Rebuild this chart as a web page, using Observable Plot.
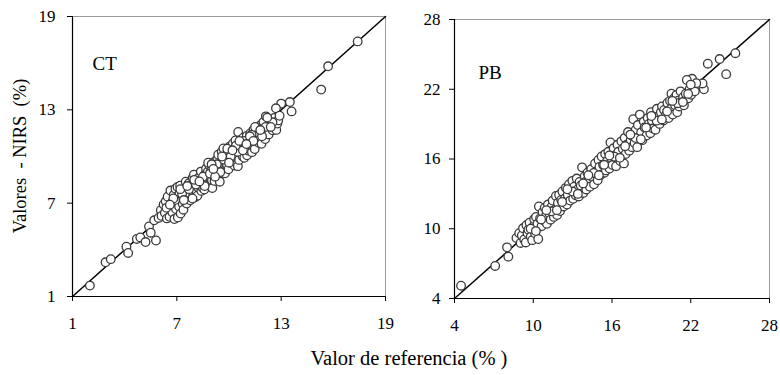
<!DOCTYPE html>
<html><head><meta charset="utf-8">
<script src="https://cdn.jsdelivr.net/npm/d3@7"></script>
<script src="https://cdn.jsdelivr.net/npm/@observablehq/plot@0.6"></script>
<style>
body{margin:0;background:#fff;}
#wrap{position:relative;width:780px;height:375px;font-family:"Liberation Serif","DejaVu Serif",serif;color:#000;overflow:hidden;}
.p{position:absolute;top:0;}
.ylab{position:absolute;left:20px;top:156px;transform:translate(-50%,-50%) rotate(-90deg);white-space:pre;font-size:18.5px;line-height:1;}
.xlab{position:absolute;left:409px;top:358px;transform:translate(-50%,-50%);white-space:pre;font-size:20.5px;line-height:1;}
</style></head><body>
<div id="wrap"></div>
<script>
const ctLabel = "CT";
const pbLabel = "PB";
const ctDomain = [1, 19];
const pbDomain = [4, 28];
const ctTicks = [1, 7, 13, 19];
const pbTicks = [4, 10, 16, 22, 28];
const yTitle = "Valores  - NIRS  (%)";
const xTitle = "Valor de referencia (% )";

// [valor de referencia, valor NIRS]
const ctPoints = [
 [2.0,1.7],[2.9,3.2],[3.2,3.4],[4.1,4.2],[4.2,3.8],[4.7,4.7],[4.9,4.8],[5.2,4.5],[5.8,4.6],[5.4,5.5],[5.5,5.1],[5.7,5.9],
 [13.5,13.5],[13.6,12.9],[13.0,13.4],[12.7,13.1],[15.3,14.3],[15.7,15.8],[17.4,17.4],
 [5.95,6.05],[6.08,6.55],[6.12,6.18],[6.24,6.92],[6.31,6.38],[6.36,7.12],[6.43,6.02],[6.52,6.71],[6.47,7.42],[6.58,6.12],
 [6.63,7.81],[6.71,7.03],[6.74,6.41],[6.82,7.52],[6.86,5.98],[6.92,7.93],[6.95,6.62],[7.02,7.24],[7.06,6.08],[7.04,8.04],
 [7.13,6.79],[7.15,7.61],[7.22,6.33],[7.19,8.12],[7.31,7.33],[7.34,6.97],[7.42,7.84],[7.38,6.58],[7.51,8.38],[7.48,7.12],
 [7.62,7.71],[7.57,6.98],[7.68,8.27],[7.74,7.43],[7.81,8.03],[7.77,7.18],[7.91,8.62],[7.94,7.58],[8.03,8.21],[8.05,7.38],
 [7.98,8.83],[8.12,7.81],[8.14,8.52],[8.21,8.02],[8.18,7.48],[8.32,8.71],[8.27,8.18],[8.41,7.79],[8.38,9.03],[8.52,8.42],
 [8.47,8.01],[8.61,8.83],[8.58,7.88],[8.68,9.21],[8.72,8.52],[8.83,8.19],[8.79,9.04],[8.91,8.61],[8.87,9.42],[9.02,8.48],
 [8.98,9.12],[9.04,7.97],[9.12,9.63],[9.08,8.81],[9.21,9.28],[9.17,8.43],[9.33,9.82],[9.28,9.01],[9.41,8.68],[9.38,10.12],
 [9.52,9.41],[9.47,8.38],[9.58,10.31],[9.63,9.72],[9.71,9.08],[9.68,10.52],[9.82,9.79],[9.77,8.92],[9.91,10.21],[9.88,9.48],
 [10.02,10.63],[9.97,9.18],[10.04,9.91],[10.13,10.28],[10.08,9.62],[10.22,10.82],[10.18,9.88],[10.31,9.42],[10.27,10.48],[10.42,10.02],
 [10.37,11.03],[10.51,9.38],[10.47,10.61],[10.53,11.58],[10.62,10.22],[10.58,9.78],[10.71,10.91],[10.67,10.42],[10.82,11.21],[10.78,10.01],
 [10.91,10.68],[10.88,9.92],[11.02,11.32],[10.97,10.52],[11.04,10.08],[11.12,11.02],[11.08,10.38],[11.22,11.48],[11.18,10.81],[11.32,10.28],
 [11.27,11.18],[11.41,11.72],[11.37,10.68],[11.52,11.12],[11.48,10.48],[11.62,11.82],[11.58,11.28],[11.71,10.88],[11.67,11.52],[11.82,12.02],
 [11.78,11.08],[11.91,11.62],[11.87,10.82],[12.02,11.38],[11.98,12.21],[12.12,12.58],[12.08,11.12],[12.22,11.78],[12.31,12.02],[12.28,11.42],
 [12.42,12.31],[12.51,11.68],[12.61,12.48],[12.72,11.71],[12.78,12.12],[12.83,12.32],[12.91,12.62],
 [6.4,6.7],[6.9,7.2],[7.3,7.6],[7.7,7.9],[8.1,8.2],[8.5,8.7],[8.9,8.9],[9.3,9.5],[9.7,9.8],[10.1,10.0],[10.5,10.3],[10.9,11.0],
 [11.3,11.4],[11.7,11.8],[12.1,11.9],[12.5,12.2],[7.2,7.9],[8.0,8.5],[8.8,9.6],[9.6,10.0],[10.4,10.7],[11.2,11.3],[6.8,7.3],[7.6,8.1],
 [9.0,9.5],[9.9,10.5],[10.6,11.0],[11.5,11.9],[12.2,12.5],[7.9,7.3],[9.5,9.0],[10.8,10.4],[11.9,11.3],[8.6,8.1],[9.2,8.7],[10.0,9.6],
 [11.4,11.0],[12.4,11.9],[6.6,6.9],[7.4,7.2],[8.3,8.4],[9.1,9.2],[10.2,10.4],[11.0,10.8],[11.8,11.7]
];

const pbPoints = [
 [4.5,5.1],[7.1,6.8],[8.0,8.4],[8.1,7.6],
 [25.4,25.1],[24.2,24.6],[23.3,24.2],[24.7,23.3],[23.0,22.0],[22.9,22.5],[22.1,22.9],[21.7,22.8],
 [8.72,9.21],[8.93,9.62],[9.04,8.78],[9.13,9.43],[9.22,10.04],[9.31,9.08],[9.43,8.82],[9.48,10.31],[9.56,9.63],[9.63,9.92],
 [9.72,10.52],[9.81,9.31],[9.92,9.02],[10.02,10.21],[10.07,10.83],[10.13,9.62],[10.21,11.02],[10.32,10.42],[10.38,9.12],[10.43,11.92],
 [10.52,10.88],[10.63,10.22],[10.71,11.43],[10.82,10.72],[10.88,11.81],[10.97,11.12],[11.04,10.42],[11.12,12.08],[11.23,11.31],[11.32,10.78],
 [11.41,11.92],[11.48,12.42],[11.57,11.02],[11.62,11.62],[11.73,12.82],[11.82,11.18],[11.88,12.22],[11.97,12.91],[12.04,11.52],[12.13,12.48],
 [12.22,13.21],[12.31,11.92],[12.42,12.62],[12.48,13.52],[12.57,12.08],[12.63,12.92],[12.72,13.81],[12.81,12.42],[12.88,13.31],[12.98,14.12],
 [13.04,12.58],[13.12,13.62],[13.23,12.88],[13.31,14.32],[13.42,13.42],[13.47,12.78],[13.53,14.02],[13.62,13.72],[13.72,15.28],[13.81,13.08],
 [13.92,14.52],[13.97,14.02],[14.04,13.38],[14.13,14.82],[14.22,14.18],[14.31,13.62],[14.42,15.12],[14.48,14.48],[14.63,13.82],[14.71,15.62],
 [14.82,14.92],[14.91,14.18],[14.97,15.92],[15.04,15.31],[15.12,14.62],[15.21,16.22],[15.32,15.48],[15.42,14.82],[15.48,16.42],[15.53,15.02],
 [15.62,15.82],[15.72,16.62],[15.81,15.18],[15.88,17.42],[15.97,16.02],[16.04,15.48],[16.12,16.92],[16.22,16.28],[16.31,15.38],[16.42,17.22],
 [16.48,16.62],[16.63,15.82],[16.71,17.52],[16.82,16.88],[16.91,15.62],[16.97,17.82],[17.04,16.42],[17.12,17.22],[17.22,18.32],[17.31,16.72],
 [17.42,17.62],[17.48,18.02],[17.53,17.02],[17.62,19.42],[17.72,17.38],[17.81,18.52],[17.92,17.02],[17.97,18.92],[18.04,17.82],[18.12,19.82],
 [18.22,18.28],[18.31,17.62],[18.42,19.22],[18.48,18.72],[18.63,18.02],[18.72,19.52],[18.81,19.02],[18.92,18.22],[18.97,20.02],[19.04,19.32],
 [19.12,18.62],[19.22,19.72],[19.31,18.52],[19.42,20.32],[19.48,19.62],[19.63,19.02],[19.72,20.02],[19.81,20.52],[19.92,19.32],[19.97,20.22],
 [20.12,19.82],[20.22,20.82],[20.31,19.52],[20.42,21.02],[20.48,20.32],[20.53,21.62],[20.63,19.82],[20.72,21.22],[20.81,20.62],[20.92,21.52],
 [20.97,20.02],[21.04,21.02],[21.12,20.52],[21.22,21.82],[21.31,20.92],[21.42,21.32],[21.48,20.62],[21.62,21.62],[21.82,21.22],[21.92,22.02],
 [22.02,21.52],[22.22,22.22],[22.31,21.82],[22.42,22.52],
 [9.8,10.0],[10.6,10.8],[11.4,11.5],[12.2,12.3],[13.0,13.2],[13.8,13.9],[14.6,14.8],[15.4,15.5],[16.2,16.2],[17.0,17.1],[17.8,17.8],
 [18.6,18.7],[19.4,19.3],[20.2,20.1],[21.0,20.8],[21.8,21.6],[11.0,11.6],[12.6,13.4],[14.2,14.6],[15.8,16.3],[17.4,18.1],[19.0,19.7],
 [20.6,21.0],[10.2,9.8],[11.8,11.6],[13.4,13.0],[15.0,14.6],[16.6,16.1],[18.2,17.7],[19.8,19.4],[21.4,20.9],[22.0,22.4]
];

const FONT = '"Liberation Serif", "DejaVu Serif", serif';

function panel(points, domain, ticks, label, m) {
  return Plot.plot({
    width: 390, height: 340,
    marginLeft: m.left, marginRight: m.right, marginTop: m.top, marginBottom: m.bottom,
    style: {fontFamily: FONT, fontSize: "17px", color: "#000", background: "transparent", overflow: "visible"},
    x: {domain, ticks, tickSize: 5, tickPadding: 15, label: null},
    y: {domain, ticks, tickSize: 5, tickPadding: m.ypad, label: null},
    marks: [
      Plot.ruleY([domain[1]], {stroke: "#999", strokeWidth: 1}),
      Plot.ruleX([domain[1]], {stroke: "#999", strokeWidth: 1}),
      Plot.ruleY([domain[0]], {stroke: "#000", strokeWidth: 1.2}),
      Plot.ruleX([domain[0]], {stroke: "#000", strokeWidth: 1.2}),
      Plot.line(domain.map(d => [d, d]), {x: d => d[0], y: d => d[1], stroke: "#000", strokeWidth: 1.5}),
      Plot.dot(points, {x: d => d[0], y: d => d[1], r: 4.3, fill: "white", stroke: "#3a3a3a", strokeWidth: 1.3}),
      Plot.text([label], {text: d => d, frameAnchor: "top-left", dx: m.lx, dy: m.ly, textAnchor: "start", lineAnchor: "middle", fontSize: 19, fontFamily: FONT})
    ]
  });
}

const wrap = document.getElementById("wrap");
const left = panel(ctPoints, ctDomain, ctTicks, ctLabel, {left: 72, right: 5, top: 16, bottom: 44, ypad: 12, lx: 20, ly: 47});
const right = panel(pbPoints, pbDomain, pbTicks, pbLabel, {left: 64, right: 11, top: 19, bottom: 42, ypad: 9, lx: 24, ly: 53});
left.classList.add("p"); left.style.left = "0px";
right.classList.add("p"); right.style.left = "390px";
wrap.appendChild(left);
wrap.appendChild(right);
const yl = document.createElement("div"); yl.className = "ylab"; yl.textContent = yTitle; wrap.appendChild(yl);
const xl = document.createElement("div"); xl.className = "xlab"; xl.textContent = xTitle; wrap.appendChild(xl);
</script>
</body></html>
